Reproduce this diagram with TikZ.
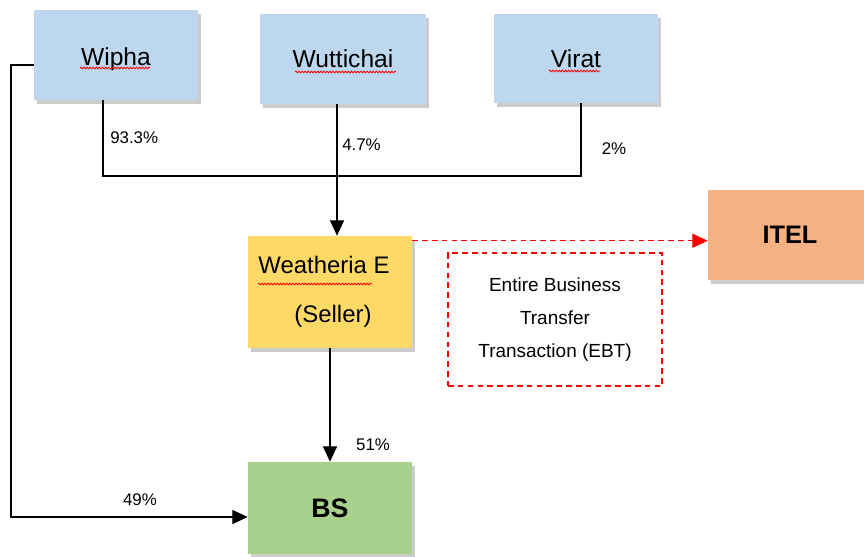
\documentclass[tikz,border=0pt]{standalone}
\usepackage{fontspec}
\setmainfont{Liberation Sans}
\usepackage{tikz}
\usetikzlibrary{calc,arrows.meta,shadows,decorations.pathmorphing}

\begin{document}
\begin{tikzpicture}[
	box/.style={minimum width=4.1cm,minimum height=2.25cm,inner sep=0pt,
		drop shadow={shadow xshift=2pt,shadow yshift=-2.5pt,fill=black!40}},
	pct/.style={font=\fontsize{12}{14}\selectfont,inner sep=0pt},
	arr/.style={line width=1pt,-{Triangle[length=11pt,width=10pt]}},
	ebtarr/.style={red,line width=1pt,dash pattern=on 4pt off 3pt,-{Triangle[length=11pt,width=10pt]}},
	squig/.style={red,line width=0.6pt,decorate,decoration={snake,segment length=2.2pt,amplitude=0.6pt}}
	]
	\useasboundingbox (0,0) rectangle (21.6,-13.9);
	
	\node[box,fill={rgb,255:red,189;green,215;blue,238},font=\fontsize{17.5}{21}\selectfont,text height=0.65cm,text depth=0.13cm] (wi) at (2.9,-1.375) {Wipha};
	
	\node[box,fill={rgb,255:red,189;green,215;blue,238},font=\fontsize{17.5}{21}\selectfont,minimum width=4.15cm] (wu) at (8.575,-1.475) {Wuttichai};
	
	\node[box,fill={rgb,255:red,189;green,215;blue,238},font=\fontsize{17.5}{21}\selectfont,minimum height=2.225cm] (vi) at (14.4,-1.4625) {Virat};
	
	\node[box,fill={rgb,255:red,255;green,217;blue,102},font=\fontsize{17}{35}\selectfont,minimum height=2.8cm,align=center] (we) at (8.25,-7.3) {Weatheria E\hspace*{0.3cm}\\\hspace*{0.15cm}(Seller)};
	
	\node[box,fill={rgb,255:red,244;green,177;blue,131},font=\bfseries\fontsize{18}{21}\selectfont] (it) at (19.75,-5.875) {ITEL};
	
	\node[draw=red,line width=1pt,dash pattern=on 4pt off 3pt,minimum width=5.35cm,minimum height=3.325cm,align=center,font=\fontsize{13.5}{23.5}\selectfont] (ebt) at (13.875,-7.9875) {Entire Business\\Transfer\\Transaction (EBT)};
	
	\node[box,fill={rgb,255:red,169;green,209;blue,142},font=\bfseries\fontsize{19}{22}\selectfont,minimum height=2.3cm] (bs) at (8.25,-12.7) {BS};
	
	\node[pct,anchor=west] (p1) at (2.75,-3.45) {93.3\%};
	
	\node[pct,anchor=west] (p2) at (8.55,-3.625) {4.7\%};
	
	\node[pct] (p3) at (15.35,-3.725) {2\%};
	
	\node[pct] (p4) at (9.325,-11.125) {51\%};
	
	\node[pct] (p5) at (3.5,-12.5) {49\%};
	
	\coordinate (j1) at (2.575,-4.4);
	\coordinate (j2) at (14.525,-4.4);
	\coordinate (c) at (0.275,-12.925);
	
	\draw[line width=1pt] (wi.south -| j1) -- (j1) -- (j2) -- (vi.south -| j2);
	\draw[arr] ([xshift=-0.15cm]wu.south) -- ([xshift=-0.15cm]wu.south |- we.north);
	\draw[arr] (we.south) -- (bs.north);
	\draw[arr] ([yshift=-0.25cm]wi.west) -| (c) -- (c -| bs.west);
	\draw[ebtarr] ([yshift=-0.125cm]we.north east) -- ([yshift=-0.125cm]we.north east -| it.west);
	
	\draw[squig] (2.0,-1.7) -- (3.75,-1.7);
	\draw[squig] (7.375,-1.8) -- (9.9,-1.8);
	\draw[squig] (13.725,-1.775) -- (15.0,-1.775);
	\draw[squig] (6.45,-7.1) -- (9.3,-7.1);
	
\end{tikzpicture}
\end{document}
